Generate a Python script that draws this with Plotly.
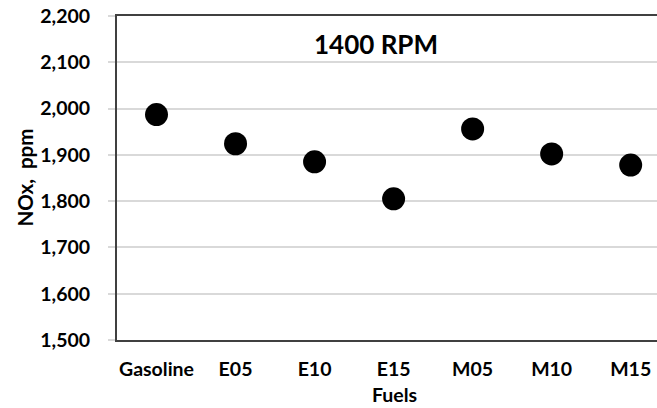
import plotly.graph_objects as go

# NOx emissions at 1400 RPM for each fuel blend
fuels = ["Gasoline", "E05", "E10", "E15", "M05", "M10", "M15"]
nox_ppm = [1987, 1924, 1885, 1805, 1956, 1902, 1878]

y_ticks = [1500, 1600, 1700, 1800, 1900, 2000, 2100, 2200]

FONT = "Lato"
frame_color = "#404040"
grid_color = "#d9d9d9"

fig = go.Figure()
fig.add_trace(go.Scatter(
    x=list(range(len(fuels))),
    y=nox_ppm,
    mode="markers",
    marker=dict(color="black", size=23, line=dict(width=0)),
    showlegend=False,
    hoverinfo="skip",
))

fig.update_layout(
    width=657,
    height=408,
    margin=dict(l=117, r=0, t=16, b=68),
    paper_bgcolor="white",
    plot_bgcolor="white",
    font=dict(family=FONT, color="black"),
    xaxis=dict(
        tickmode="array",
        tickvals=list(range(len(fuels))),
        ticktext=fuels,
        # right end of the category band runs past the page edge
        range=[-0.5, 6.333],
        showgrid=False,
        zeroline=False,
        showline=True,
        mirror=True,
        linecolor=frame_color,
        linewidth=2,
        ticks="",
        tickfont=dict(family=FONT, size=19.5, color="black", weight="bold"),
        ticklabelstandoff=11,
    ),
    yaxis=dict(
        range=[1500, 2200],
        tickmode="array",
        tickvals=y_ticks,
        tickformat=",",
        showgrid=True,
        gridcolor=grid_color,
        gridwidth=1.5,
        zeroline=False,
        showline=True,
        mirror=False,
        linecolor=frame_color,
        linewidth=2,
        ticks="outside",
        ticklen=7,
        tickwidth=1.5,
        tickcolor=grid_color,
        tickfont=dict(family=FONT, size=19.5, color="black", weight="bold"),
        ticklabelstandoff=14,
    ),
    annotations=[
        dict(
            text="<b>1400 RPM</b>", x=0.48, y=0.915, xref="paper", yref="paper",
            xanchor="center", yanchor="middle", showarrow=False,
            font=dict(family=FONT, size=26, color="black"),
        ),
        dict(
            text="<b>Fuels</b>", x=0.513, y=-0.168, xref="paper", yref="paper",
            xanchor="center", yanchor="middle", showarrow=False,
            font=dict(family=FONT, size=19.5, color="black"),
        ),
        dict(
            text="<b>NOx,  ppm</b>", x=-0.170, y=0.502, xref="paper", yref="paper",
            xanchor="center", yanchor="middle", showarrow=False, textangle=-90,
            font=dict(family=FONT, size=20.5, color="black"),
        ),
    ],
)

fig.write_html("out.html")
